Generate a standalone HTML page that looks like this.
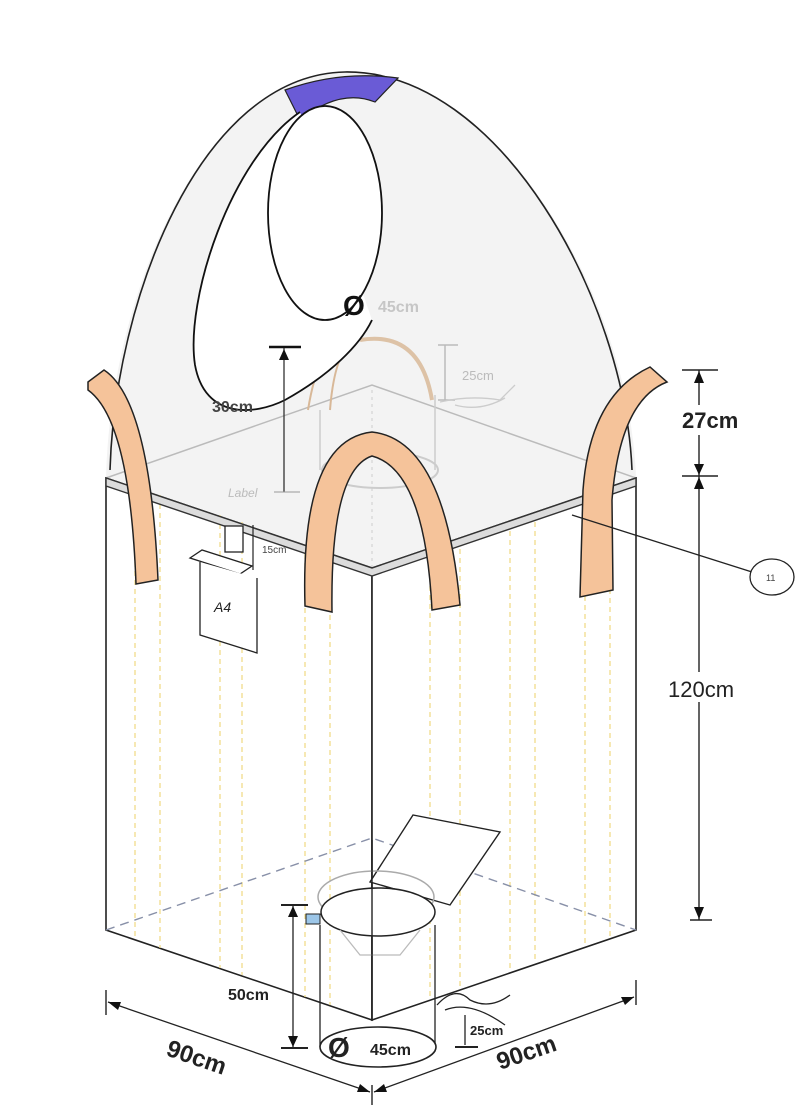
<!DOCTYPE html>
<html><head><meta charset="utf-8"><style>
html,body{margin:0;padding:0;background:#fff}
svg{display:block}
text{font-family:"Liberation Sans",Arial,sans-serif}
</style></head><body>
<svg width="806" height="1115" viewBox="0 0 806 1115" xmlns="http://www.w3.org/2000/svg">
<path d="M106,478 C110,300 200,75 345,72 C500,70 630,300 636,478 L372,568 Z" fill="#f3f3f3" stroke="none"/>
<path d="M110,470 C115,300 200,75 345,72 C500,70 625,300 632,470" fill="none" stroke="#222" stroke-width="1.6"/>
<path d="M285,90 Q340,70 398,78 L375,102 Q340,88 300,120 Z" fill="#6a5bd6" stroke="#222" stroke-width="1.2"/>
<path d="M106,478 L372,385 L636,478" fill="none" stroke="#bbb" stroke-width="1.5"/>
<line x1="372" y1="390" x2="372" y2="568" stroke="#ccc" stroke-dasharray="3,4"/>
<path d="M308,410 Q320,335 355,330 M330,410 Q335,345 360,335" fill="none" stroke="#d8b898" stroke-width="2"/>
<path d="M320,410 L320,470 M435,395 L435,470" stroke="#ccc" stroke-width="1.5"/>
<ellipse cx="380" cy="470" rx="58" ry="18" fill="none" stroke="#ccc" stroke-width="2"/>
<path d="M360,340 Q420,330 432,400" fill="none" stroke="#ddc2a6" stroke-width="4"/>
<path d="M445,345 L445,400 M438,345 L458,345 M438,400 L455,400" stroke="#bbb" stroke-width="1.5"/>
<path d="M440,402 Q470,395 500,400 Q510,390 515,385 M455,405 Q480,412 505,398" fill="none" stroke="#ccc" stroke-width="1.3"/>
<text x="462" y="380" font-size="13" fill="#bbb">25cm</text>
<path d="M300,112 C230,160 185,300 195,365 C205,420 255,415 285,400 C330,375 360,345 372,320" fill="#fff" stroke="#111" stroke-width="1.8"/>
<ellipse cx="325" cy="213" rx="57" ry="107" fill="#fff" stroke="#111" stroke-width="1.8"/>
<text x="343" y="315" font-size="28" font-weight="bold" fill="#111">Ø</text>
<text x="378" y="312" font-size="16" font-weight="bold" fill="#c6c6c6">45cm</text>
<text x="212" y="412" font-size="16" font-weight="bold" fill="#444">30cm</text>
<line x1="284" y1="347" x2="284" y2="492" stroke="#333" stroke-width="1.3"/>
<line x1="269" y1="347" x2="301" y2="347" stroke="#111" stroke-width="2.5"/>
<line x1="274" y1="492" x2="300" y2="492" stroke="#999" stroke-width="1"/>
<path d="M279,360 L284,349 L289,360 Z" fill="#111"/>
<text x="228" y="497" font-size="12" fill="#bbb" font-style="italic">Label</text>
<path d="M106,478 L372,568 L372,1020 L106,930 Z" fill="#fff" stroke="#222" stroke-width="1.6"/>
<path d="M372,568 L636,478 L636,930 L372,1020 Z" fill="#fff" stroke="#222" stroke-width="1.6"/>
<g stroke="#f0dc8a" stroke-width="1.3" stroke-dasharray="5,4">
<line x1="135" y1="490" x2="135" y2="940"/><line x1="160" y1="495" x2="160" y2="948"/>
<line x1="220" y1="515" x2="220" y2="968"/><line x1="242" y1="522" x2="242" y2="975"/>
<line x1="305" y1="545" x2="305" y2="997"/><line x1="330" y1="552" x2="330" y2="1005"/>
<line x1="430" y1="550" x2="430" y2="1000"/><line x1="460" y1="540" x2="460" y2="990"/>
<line x1="510" y1="522" x2="510" y2="972"/><line x1="535" y1="513" x2="535" y2="963"/>
<line x1="585" y1="497" x2="585" y2="947"/><line x1="610" y1="490" x2="610" y2="940"/>
</g>
<path d="M106,930 L372,838 L636,930" fill="none" stroke="#8890a8" stroke-width="1.4" stroke-dasharray="9,6"/>
<path d="M106,478 L372,568 L636,478 L636,486 L372,576 L106,486 Z" fill="#dcdcdc" stroke="#333" stroke-width="1.4"/>
<path d="M88,382 L104,370 Q150,400 158,580 L136,584 Q130,420 88,390 Z" fill="#f5c39a" stroke="#222" stroke-width="1.5"/>
<path d="M583,490 Q590,395 650,367 L667,382 Q620,400 612,500 L613,590 L580,597 Z" fill="#f5c39a" stroke="#222" stroke-width="1.5"/>
<path d="M305,606 Q300,440 372,432 Q445,440 460,605 L432,610 Q425,470 372,456 Q330,470 332,612 Z" fill="#f5c39a" stroke="#222" stroke-width="1.5"/>
<rect x="225" y="526" width="18" height="26" fill="#fff" stroke="#222" stroke-width="1.3"/>
<path d="M190,558 L202,550 L252,566 L240,574 Z" fill="#fff" stroke="#222" stroke-width="1.3"/>
<path d="M200,562 L200,635 L257,653 L257,578" fill="#fff" stroke="#222" stroke-width="1.3"/>
<text x="214" y="612" font-size="14" font-style="italic" fill="#222">A4</text>
<line x1="253" y1="525" x2="253" y2="570" stroke="#222" stroke-width="1.2"/>
<text x="262" y="553" font-size="10" fill="#444">15cm</text>
<line x1="572" y1="515" x2="752" y2="572" stroke="#222" stroke-width="1.3"/>
<ellipse cx="772" cy="577" rx="22" ry="18" fill="#fff" stroke="#222" stroke-width="1.3"/>
<text x="766" y="581" font-size="9" fill="#444">11</text>
<line x1="699" y1="370" x2="699" y2="920" stroke="#222" stroke-width="1.4"/>
<g stroke="#222" stroke-width="1.4"><line x1="682" y1="370" x2="718" y2="370"/><line x1="682" y1="476" x2="718" y2="476"/><line x1="690" y1="920" x2="712" y2="920"/></g>
<g fill="#111"><path d="M694,383 L699,371 L704,383 Z"/><path d="M694,464 L699,475 L704,464 Z"/><path d="M694,489 L699,477 L704,489 Z"/><path d="M694,907 L699,919 L704,907 Z"/></g>
<rect x="680" y="405" width="80" height="30" fill="#fff"/>
<text x="682" y="428" font-size="22" font-weight="bold" fill="#222">27cm</text>
<rect x="665" y="672" width="95" height="30" fill="#fff"/>
<text x="668" y="697" font-size="22" fill="#222">120cm</text>
<path d="M370,882 L413,815 L500,832 L450,905 Z" fill="#fff" stroke="#222" stroke-width="1.4"/>
<ellipse cx="376" cy="897" rx="58" ry="26" fill="none" stroke="#aaa" stroke-width="1.5"/>
<ellipse cx="378" cy="912" rx="57" ry="24" fill="#fff" stroke="#222" stroke-width="1.5"/>
<path d="M340,930 L360,955 L400,955 L420,930" fill="none" stroke="#bbb" stroke-width="1.3"/>
<line x1="372" y1="840" x2="372" y2="1020" stroke="#222" stroke-width="1.4"/>
<rect x="306" y="914" width="14" height="10" fill="#9cc6e8" stroke="#222"/>
<line x1="320" y1="925" x2="320" y2="1047" stroke="#222" stroke-width="1.3"/>
<line x1="435" y1="925" x2="435" y2="1047" stroke="#222" stroke-width="1.3"/>
<ellipse cx="378" cy="1047" rx="58" ry="20" fill="#fff" stroke="#222" stroke-width="1.6"/>
<text x="328" y="1057" font-size="28" font-weight="bold" fill="#222">Ø</text>
<text x="370" y="1055" font-size="16" font-weight="bold" fill="#222">45cm</text>
<line x1="293" y1="905" x2="293" y2="1048" stroke="#222" stroke-width="1.3"/>
<line x1="281" y1="905" x2="308" y2="905" stroke="#222" stroke-width="2"/>
<line x1="281" y1="1048" x2="308" y2="1048" stroke="#222" stroke-width="2"/>
<path d="M288,917 L293,906 L298,917 Z M288,1036 L293,1047 L298,1036 Z" fill="#111"/>
<text x="228" y="1000" font-size="16" font-weight="bold" fill="#222">50cm</text>
<path d="M437,1005 Q455,985 470,1000 Q490,1010 510,995 M445,1010 Q470,1000 505,1025" fill="none" stroke="#222" stroke-width="1.3"/>
<line x1="465" y1="1015" x2="465" y2="1045" stroke="#222" stroke-width="1.3"/>
<line x1="455" y1="1047" x2="478" y2="1047" stroke="#222" stroke-width="2"/>
<text x="470" y="1035" font-size="13" font-weight="bold" fill="#222">25cm</text>
<line x1="106" y1="990" x2="106" y2="1015" stroke="#222" stroke-width="1.4"/>
<line x1="636" y1="980" x2="636" y2="1005" stroke="#222" stroke-width="1.4"/>
<line x1="372" y1="1085" x2="372" y2="1105" stroke="#222" stroke-width="1.4"/>
<line x1="108" y1="1002" x2="370" y2="1092" stroke="#222" stroke-width="1.3"/>
<line x1="374" y1="1092" x2="634" y2="997" stroke="#222" stroke-width="1.3"/>
<path d="M108,1002 L121,1002 L118,1010 Z M370,1092 L357,1092 L360,1084 Z M374,1092 L387,1092 L384,1084 Z M634,997 L621,997 L625,1005 Z" fill="#111"/>
<text x="0" y="0" font-size="24" font-weight="bold" fill="#222" transform="translate(165,1055) rotate(19)">90cm</text>
<text x="0" y="0" font-size="24" font-weight="bold" fill="#222" transform="translate(500,1070) rotate(-19)">90cm</text>
</svg>
</body></html>
